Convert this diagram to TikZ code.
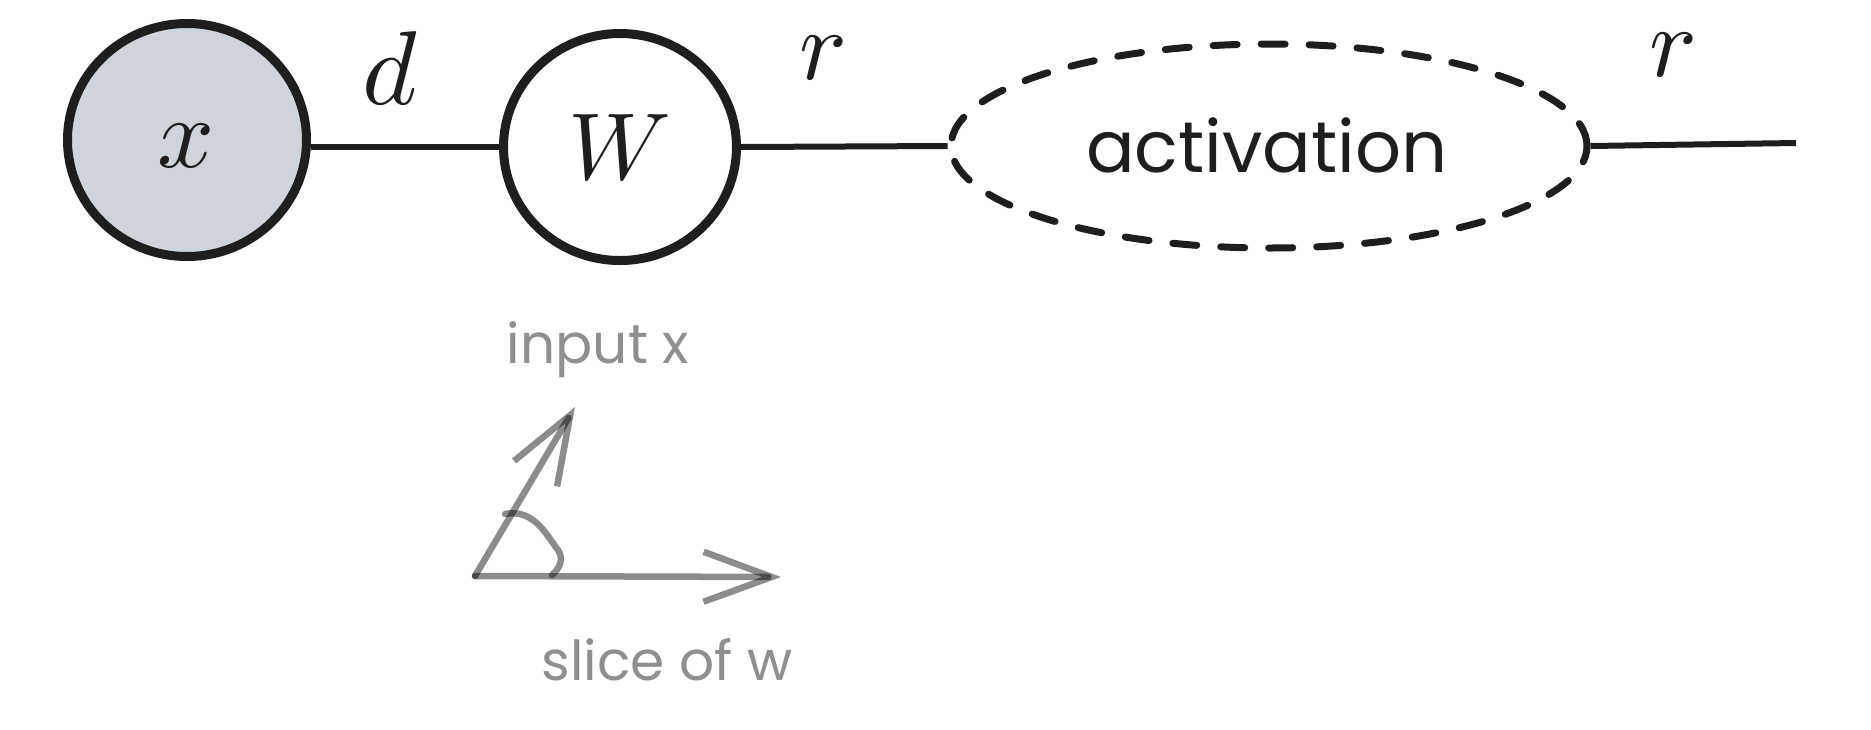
\documentclass[tikz,border=0pt]{standalone}
\usepackage{fontspec}
\newfontfamily\hand{Poppins}
\usetikzlibrary{shapes.geometric,arrows.meta}
\definecolor{ink}{HTML}{1E1E1E}
\definecolor{xfill}{HTML}{CED4DA}
\definecolor{soft}{HTML}{8F8F8F}
\begin{document}
\begin{tikzpicture}[x=1pt,y=-1pt,
  var/.style={ellipse, draw=ink, line width=9pt, inner sep=0pt},
  conn/.style={draw=ink, line width=6pt},
  mathlbl/.style={text=ink, inner sep=0pt},
  handlbl/.style={font=\hand\fontsize{55}{60}\selectfont, text=soft, inner sep=0pt},
  vecline/.style={draw=black, draw opacity=0.45, line width=6.5pt, line cap=round, line join=round},
  vecarrow/.style={vecline, -{Straight Barb[length=68pt,width=50pt,line width=6.5pt]}}
]
\useasboundingbox (0,0) rectangle (1871,729);

% top row
\node[var, fill=xfill, minimum width=239pt, minimum height=233pt] (xc) at (187,140) {};
\node[mathlbl] at (186,146) {\scalebox{10}{$x$}};
\node[var, fill=white, minimum width=233pt, minimum height=227pt] (W) at (620,147) {};
\node[mathlbl] at (W.center) {\scalebox{9.5}{$W$}};
\node[ellipse, draw=ink, line width=7pt, dash pattern=on 24pt off 24pt, line cap=round,
      minimum width=636pt, minimum height=204pt, inner sep=0pt] (act) at (1269,146) {};
\node[font=\hand\fontsize{72}{76}\selectfont, text=ink, inner sep=0pt] at (1267,145) {activation};
\coordinate (out) at (1796,143);

\draw[conn] (W.west) -- (W.west -| xc.east);
\draw[conn] (W.east) -- (act.west);
\draw[conn] (act.east) -- (out);

\node[mathlbl] (dl) at (390,68) {\scalebox{10.5}{$d$}};
\node[mathlbl] (r1) at (823,58) {\scalebox{10}{$r$}};
\node[mathlbl] (r2) at (1673,55) {\scalebox{10}{$r$}};

% angle sketch
\coordinate (o) at (475,576);
\coordinate (t1) at (575,407);
\coordinate (t2) at (781,577);
\draw[vecarrow] (o) -- (t1);
\draw[vecarrow] (o) -- (t2);
\draw[vecline] (505,514) .. controls (535,508) and (548,538) .. (558,550)
   .. controls (565,560) and (558,570) .. (552,575);
\node[handlbl] (inx) at (598,350) {input x};
\node[handlbl] (slw) at (667,660) {slice of w};
\end{tikzpicture}
\end{document}
